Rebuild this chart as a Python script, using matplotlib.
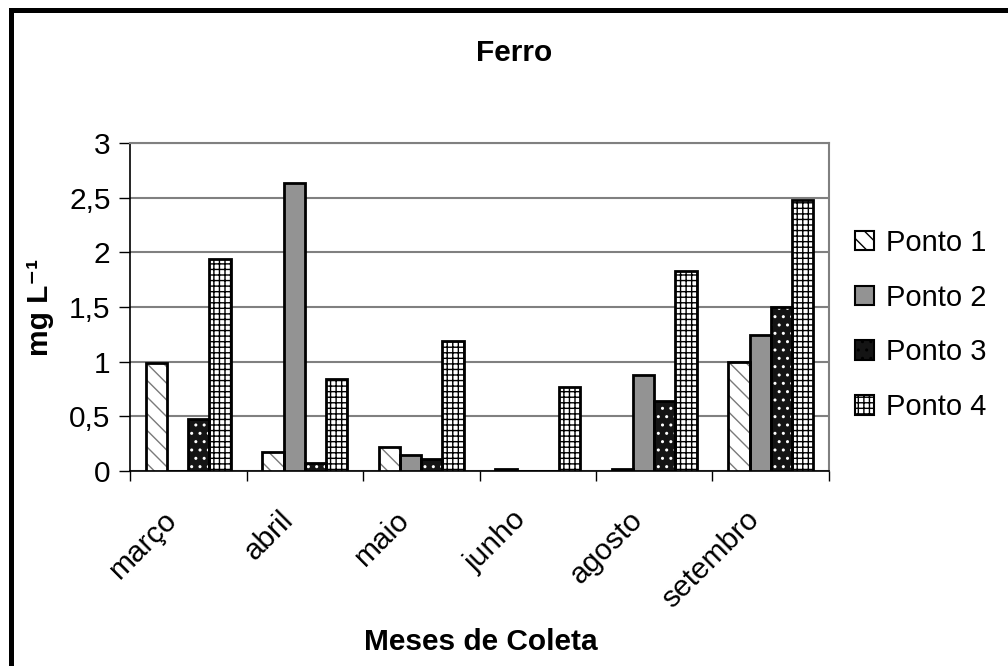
import matplotlib.pyplot as plt
import matplotlib.patches as mpatches
import numpy as np

plt.rcParams['font.family'] = ['Liberation Sans', 'DejaVu Sans']
plt.rcParams['hatch.linewidth'] = 1.0

meses = ["março", "abril", "maio", "junho", "agosto", "setembro"]
pontos = ["Ponto 1", "Ponto 2", "Ponto 3", "Ponto 4"]
ponto1 = [0.99, 0.17, 0.22, 0.02, 0.02, 1.00]
ponto2 = [0.0, 2.63, 0.15, 0.0, 0.88, 1.24]
ponto3 = [0.48, 0.07, 0.11, 0.0, 0.64, 1.50]
ponto4 = [1.94, 0.84, 1.19, 0.77, 1.83, 2.48]
yticks = [0, 0.5, 1, 1.5, 2, 2.5, 3]
ytick_labels = ["0", "0,5", "1", "1,5", "2", "2,5", "3"]

# face colour, hatch, hatch colour for each ponto
styles = [
    ("white", "\\\\", "#7a7a7a"),
    ("#939393", "", "#939393"),
    ("#141414", "..", "white"),
    ("white", "+++", "black"),
]

fig = plt.figure(figsize=(10.08, 6.66), dpi=100)
ax = fig.add_axes([0.129, 0.2928, 0.6934, 0.4925])

x = np.arange(len(meses)) + 0.5
width = 0.182
series = [ponto1, ponto2, ponto3, ponto4]
for i, vals in enumerate(series):
    fc, hatch, hc = styles[i]
    pos = x + (i - 1.5) * width
    # hatch layer, then the black outline on top
    ax.bar(pos, vals, width, color=fc, edgecolor=hc, hatch=hatch, linewidth=0, zorder=3)
    ax.bar(pos, vals, width, fill=False, edgecolor="black", linewidth=2.0, zorder=4)

ax.set_xlim(0, len(meses))
ax.set_ylim(0, 3)
ax.set_yticks(yticks)
ax.set_yticklabels(ytick_labels, fontsize=21.5)
# rotated month labels sit a little left of the group centres
ax.set_xticks(x - 0.22)
ax.set_xticklabels(meses, fontsize=21.5, rotation=45, ha="right", rotation_mode="anchor")
ax.set_xticks(np.arange(len(meses) + 1), minor=True)
ax.tick_params(axis="x", which="major", length=0, pad=25)
ax.tick_params(axis="x", which="minor", length=7, width=1, direction="out")
ax.tick_params(axis="y", length=8, width=1, direction="out", pad=6)

ax.yaxis.grid(True, color="#808080", linewidth=1.5, zorder=0)
ax.set_axisbelow(True)
for side in ["top", "right"]:
    ax.spines[side].set_color("#808080")
    ax.spines[side].set_linewidth(1.5)
ax.spines["left"].set_linewidth(1.2)
ax.spines["bottom"].set_linewidth(1.2)

fig.text(0.51, 0.92, "Ferro", fontsize=21.5, fontweight="bold", ha="center", va="center")
fig.text(0.477, 0.036, "Meses de Coleta", fontsize=21.5, fontweight="bold", ha="center", va="center")
fig.text(0.04, 0.539, "mg L⁻¹", fontsize=21.5, fontweight="bold",
         rotation=90, ha="center", va="center")

leg_handles = [mpatches.Patch(facecolor=fc, edgecolor="black", hatch=hatch, linewidth=1.5)
               for fc, hatch, hc in styles]
fig.legend(leg_handles, pontos, loc="center left", bbox_to_anchor=(0.834, 0.512),
           frameon=False, fontsize=21, handlelength=0.65, handleheight=0.65,
           handletextpad=0.4, labelspacing=0.92, borderpad=0)

# outer chart border, open on the right and bottom
frame = mpatches.Rectangle((10.5 / 1008, -0.2), 1.2, 1.2 - 9.5 / 666,
                           transform=fig.transFigure, fill=False,
                           edgecolor="black", linewidth=3.6, zorder=10)
fig.patches.append(frame)

fig.savefig("out.png", dpi=100)
